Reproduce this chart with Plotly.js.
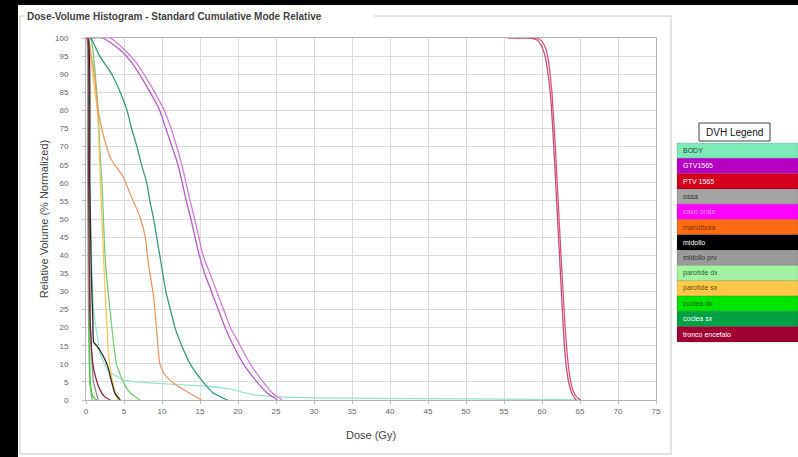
<!DOCTYPE html>
<html>
<head>
<meta charset="utf-8">
<script src="https://cdn.plot.ly/plotly-3.0.1.min.js"></script>
<style>
  html, body { margin: 0; padding: 0; background: #ffffff; }
  #chart { width: 798px; height: 457px; }
</style>
</head>
<body>
<div id="chart"></div>
<script>
// Structure list shown in the "DVH Legend" panel
const legendNames = ["BODY", "GTV1565", "PTV 1565", "ossa", "cavo orale", "mandibola", "midollo",
  "midollo prv", "parotide dx", "parotide sx", "coclea dx", "coclea sx", "tronco encefalo"];
const legendColors = ["#7de8b8", "#b800c4", "#d4001c", "#a4a4a4", "#ff00ff", "#ff6a14", "#000000",
  "#9a9a9a", "#a2f2a2", "#ffc84a", "#00e400", "#00a044", "#a00032"];
const legendTextColors = ["#2a4a3a", "#ffffff", "#ffffff", "#333333", "#ff9cff", "#8a2a00", "#ffffff",
  "#333333", "#2a6a2a", "#6a4a00", "#0a5a0a", "#ffffff", "#ffffff"];

// Cumulative DVH curves: dose (Gy) and relative volume (%)
const doseBody = [0, 0.2, 0.5, 1.0, 2.0, 3.0, 5.0, 8.0, 12, 16, 19, 22, 26, 35, 50, 60, 63, 65];
const volBody  = [100, 100, 60, 25, 12, 8, 5.5, 4.8, 4.3, 3.8, 3.0, 1.5, 0.8, 0.5, 0.3, 0.2, 0.1, 0];

const doseGtv = [55.5, 58.5, 59.3, 59.9, 60.4, 60.8, 61.2, 61.6, 62.0, 62.4, 62.8, 63.1, 63.5, 64.0, 64.5];
const volGtv  = [100, 100, 99.5, 98, 95, 90, 82, 68, 52, 36, 20, 11, 5, 1.5, 0];

const dosePtv = [56.5, 59.3, 60.0, 60.5, 60.9, 61.3, 61.7, 62.1, 62.5, 62.9, 63.3, 63.7, 64.1, 64.6, 65.1];
const volPtv  = [100, 100, 99, 97, 93, 85, 72, 56, 40, 25, 13, 6, 2.5, 0.8, 0];

const doseOssa = [0, 0.1, 0.2, 0.3, 0.5, 0.8];
const volOssa  = [100, 100, 70, 30, 5, 0];

const doseCavo = [0, 3.2, 5.1, 6.7, 8.2, 9.3, 10.3, 11.2, 12.6, 13.7, 14.3, 15.4, 16.3, 17.2, 18.1, 19.0, 20.3, 21.6, 23.3, 24.5, 25.8];
const volCavo  = [100, 100, 96.7, 93, 88, 84, 80, 75, 65, 55, 50, 40, 35, 30, 25, 20, 15, 10, 5, 2, 0];

const doseCavo2 = [0, 2.2, 4.5, 6.1, 7.6, 8.7, 9.7, 10.5, 12.1, 13.2, 13.8, 14.9, 15.6, 16.5, 17.4, 18.3, 19.4, 20.7, 22.5, 23.8, 25.2];
const volCavo2  = [100, 100, 96.7, 93, 88, 84, 80, 75, 65, 55, 50, 40, 35, 30, 25, 20, 15, 10, 5, 2, 0];

const doseMand = [0, 0.3, 0.7, 1.1, 1.6, 2.3, 3.2, 3.6, 4.9, 5.8, 7.1, 7.8, 8.2, 8.9, 9.3, 9.7, 10.1, 10.6, 11.9, 13.7, 15.2];
const volMand  = [100, 100, 95, 90, 80, 73, 67, 65.5, 61.6, 57, 50.6, 45, 37.8, 28.5, 19.3, 10.1, 8, 6.4, 4.1, 1.8, 0];

const doseMidollo = [0, 0.3, 0.5, 0.7, 0.9, 1.0, 1.4, 2.3, 2.9, 3.2, 3.8, 4.5];
const volMidollo  = [100, 100, 60, 35, 22, 16, 15, 12, 9, 6.4, 1.9, 0];

const doseMidPrv = [0, 0.2, 0.4, 0.6, 1.0, 1.6];
const volMidPrv  = [100, 100, 50, 20, 5, 0];

const doseParDx = [0, 0.6, 1.0, 1.3, 1.6, 1.8, 2.1, 2.3, 2.5, 2.9, 3.4, 4.0, 4.9, 5.8, 7.1];
const volParDx  = [100, 100, 95, 88, 80, 70, 60, 50, 40, 30, 20, 10, 5, 2, 0];

const doseParSx = [0, 0.3, 0.6, 1.0, 1.5, 1.9, 2.3, 2.7, 3.1, 3.6, 4.2];
const volParSx  = [100, 100, 95, 88, 80, 60, 40, 22, 10, 4, 0];

const doseCocDx = [0, 0.3, 0.35, 0.4, 0.45, 0.5, 0.6, 0.9, 1.4];
const volCocDx  = [100, 100, 90, 60, 30, 10, 4, 1, 0];

const doseCocSx = [0, 0.6, 1.8, 3.4, 4.5, 5.4, 6.0, 6.7, 7.3, 8.0, 8.4, 8.9, 9.3, 9.7, 10.1, 10.5, 11.1, 11.7, 12.6, 13.7, 15.4, 16.7, 18.6];
const volCocSx  = [100, 100, 95, 90, 85, 80, 75, 70, 65, 60, 55, 50, 45, 40, 35, 30, 25, 20, 15, 10, 5, 2, 0];

const doseTronco = [0, 0.2, 0.35, 0.5, 0.7, 0.9, 1.3, 1.8, 2.4, 3.2];
const volTronco  = [100, 100, 60, 25, 15, 10, 6, 3, 1, 0];

const curves = [
  {name: "BODY", x: doseBody, y: volBody, color: "#96e6c8"},
  {name: "ossa", x: doseOssa, y: volOssa, color: "#9a9a9a"},
  {name: "midollo prv", x: doseMidPrv, y: volMidPrv, color: "#8c8c8c"},
  {name: "coclea dx", x: doseCocDx, y: volCocDx, color: "#3cd83c"},
  {name: "parotide dx", x: doseParDx, y: volParDx, color: "#78cc78"},
  {name: "parotide sx", x: doseParSx, y: volParSx, color: "#f2c860"},
  {name: "mandibola", x: doseMand, y: volMand, color: "#e89a66"},
  {name: "coclea sx", x: doseCocSx, y: volCocSx, color: "#3a9a78"},
  {name: "tronco encefalo", x: doseTronco, y: volTronco, color: "#8a2848"},
  {name: "midollo", x: doseMidollo, y: volMidollo, color: "#2a2a2a"},
  {name: "cavo orale", x: doseCavo, y: volCavo, color: "#d07cd8"},
  {name: "cavo orale 2", x: doseCavo2, y: volCavo2, color: "#b45cc4"},
  {name: "GTV1565", x: doseGtv, y: volGtv, color: "#c04c88"},
  {name: "PTV 1565", x: dosePtv, y: volPtv, color: "#e05070"}
];

// Plot area geometry in page pixels
const W = 798, H = 457;
const PL = 86, PR = 656, PT = 38, PB = 400;
const px = v => (v - PL) / (PR - PL);
const py = v => (PB - v) / (PB - PT);

const traces = curves.map(c => ({
  type: "scatter", mode: "lines", name: c.name, x: c.x, y: c.y,
  line: {color: c.color, width: 1.3, shape: "spline", smoothing: 0.5},
  showlegend: false, hoverinfo: "x+y+name"
}));

const shapes = [];
const annotations = [];
const frame = "#c8c8c8";

// dark surround
shapes.push({type: "rect", xref: "paper", yref: "paper", x0: px(0), x1: px(18), y0: py(H), y1: py(0),
  fillcolor: "#000", line: {width: 0}});
shapes.push({type: "rect", xref: "paper", yref: "paper", x0: px(0), x1: px(W), y0: py(5), y1: py(0),
  fillcolor: "#000", line: {width: 0}});

// group box around the chart
const gb = [[20, 16, 24, 16], [374, 16, 671, 16], [671, 16, 671, 454], [20, 454, 671, 454], [20, 16, 20, 454]];
gb.forEach(s => shapes.push({type: "line", xref: "paper", yref: "paper",
  x0: px(s[0]), y0: py(s[1]), x1: px(s[2]), y1: py(s[3]), line: {color: frame, width: 1}}));

// legend panel
const rowTop = 143, rowH = 15.3, barL = 677, barR = 798;
legendNames.forEach((n, i) => {
  const y0 = rowTop + i * rowH, y1 = y0 + rowH;
  shapes.push({type: "rect", xref: "paper", yref: "paper", x0: px(barL), x1: px(barR), y0: py(y1), y1: py(y0),
    fillcolor: legendColors[i], line: {color: "rgba(0,0,0,0.12)", width: 1}});
  annotations.push({xref: "paper", yref: "paper", x: px(681), y: py((y0 + y1) / 2), xanchor: "left", yanchor: "middle",
    text: n, showarrow: false, font: {size: 7, color: legendTextColors[i], family: "Liberation Sans, Arial, sans-serif"}});
});
shapes.push({type: "rect", xref: "paper", yref: "paper", x0: px(699), x1: px(770), y0: py(141), y1: py(123),
  fillcolor: "#fff", line: {color: "#444", width: 1}});
annotations.push({xref: "paper", yref: "paper", x: px(734.5), y: py(132), xanchor: "center", yanchor: "middle",
  text: "DVH Legend", showarrow: false, font: {size: 10, color: "#111", family: "Liberation Sans, Arial, sans-serif"}});

const axisCommon = {
  showgrid: true, gridcolor: "#dcdcdc", gridwidth: 1, zeroline: false,
  showline: true, mirror: true, linecolor: "#b4b4b4", linewidth: 1,
  ticks: "outside", ticklen: 3, tickcolor: "#c0c0c0", automargin: false,
  tickfont: {size: 8, color: "#666", family: "Liberation Sans, Arial, sans-serif"}
};

const layout = {
  width: W, height: H,
  margin: {l: PL, r: W - PR, t: PT, b: H - PB, pad: 0},
  paper_bgcolor: "#ffffff", plot_bgcolor: "#ffffff",
  title: {text: "<b>Dose-Volume Histogram - Standard Cumulative Mode Relative</b>",
    x: 27 / W, xanchor: "left", xref: "container", y: 1 - 16 / H, yanchor: "middle", yref: "container",
    font: {size: 10, color: "#444", family: "Liberation Sans, Arial, sans-serif"}},
  xaxis: Object.assign({}, axisCommon, {range: [0, 75], tick0: 0, dtick: 5,
    title: {text: "Dose (Gy)", standoff: 16, font: {size: 11, color: "#444", family: "Liberation Sans, Arial, sans-serif"}}}),
  yaxis: Object.assign({}, axisCommon, {range: [0, 100], tick0: 0, dtick: 5, ticklabelstandoff: 12,
    title: {text: "Relative Volume (% Normalized)", standoff: 4, font: {size: 11, color: "#444", family: "Liberation Sans, Arial, sans-serif"}}}),
  shapes: shapes,
  annotations: annotations
};

Plotly.newPlot("chart", traces, layout, {displayModeBar: false, staticPlot: true});
</script>
</body>
</html>
